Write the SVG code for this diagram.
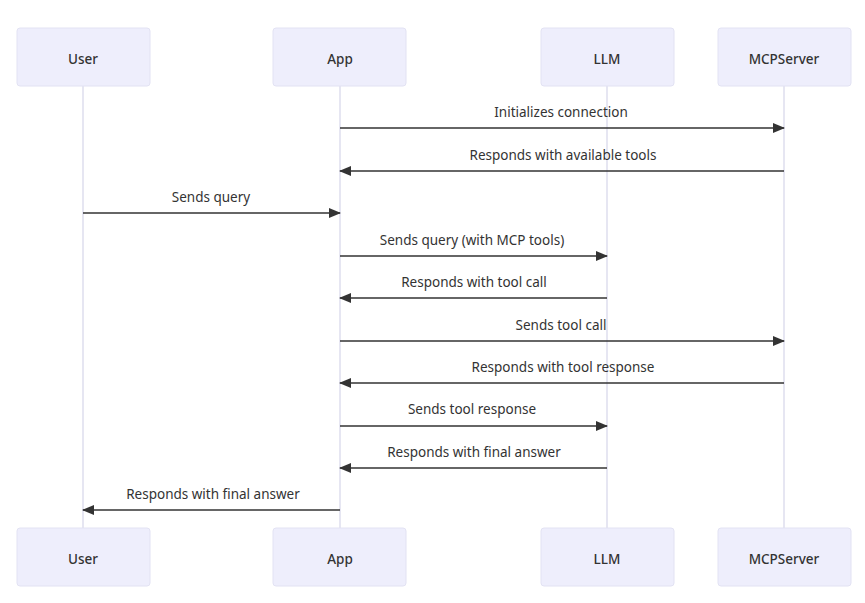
<svg xmlns="http://www.w3.org/2000/svg" width="865" height="603" viewBox="0 0 865 603">
<defs>
<marker id="arr" markerWidth="12" markerHeight="10" refX="11" refY="5" orient="auto" markerUnits="userSpaceOnUse">
<path d="M0,0 L12,5 L0,10 z" fill="#333"/>
</marker>
<style>
.actor rect{fill:#eeeefc;stroke:#e2e2f3;stroke-width:1}
.actor text{font-family:"Noto Sans","Open Sans",sans-serif;font-size:13.5px;font-weight:500;fill:#333;text-anchor:middle}
.life{stroke:#d6d6ea;stroke-width:1.2}
.msg{stroke:#333;stroke-width:1.3;fill:none;marker-end:url(#arr)}
.lbl{font-family:"Noto Sans","Open Sans",sans-serif;font-size:13.5px;fill:#333;text-anchor:middle}
</style>
</defs>
<rect width="865" height="603" fill="#fff"/>
<g id="lifelines">
<line class="life" x1="83" y1="86" x2="83" y2="528"/>
<line class="life" x1="340" y1="86" x2="340" y2="528"/>
<line class="life" x1="607" y1="86" x2="607" y2="528"/>
<line class="life" x1="784" y1="86" x2="784" y2="528"/>
</g>
<g id="User" class="actor"><rect x="17" y="28" width="133" height="58" rx="3"/><text x="83" y="63.5">User</text></g>
<g id="App" class="actor"><rect x="273" y="28" width="133" height="58" rx="3"/><text x="340" y="63.5">App</text></g>
<g id="LLM" class="actor"><rect x="541" y="28" width="133" height="58" rx="3"/><text x="607" y="63.5">LLM</text></g>
<g id="MCPServer" class="actor"><rect x="718" y="28" width="133" height="58" rx="3"/><text x="784" y="63.5">MCPServer</text></g>
<g id="User-bottom" class="actor"><rect x="17" y="528" width="133" height="58" rx="3"/><text x="83" y="563.5">User</text></g>
<g id="App-bottom" class="actor"><rect x="273" y="528" width="133" height="58" rx="3"/><text x="340" y="563.5">App</text></g>
<g id="LLM-bottom" class="actor"><rect x="541" y="528" width="133" height="58" rx="3"/><text x="607" y="563.5">LLM</text></g>
<g id="MCPServer-bottom" class="actor"><rect x="718" y="528" width="133" height="58" rx="3"/><text x="784" y="563.5">MCPServer</text></g>
<g id="connectors">
<line class="msg" x1="340" y1="128" x2="784" y2="128"/>
<text class="lbl" x="561" y="117">Initializes connection</text>
<line class="msg" x1="784" y1="171" x2="340" y2="171"/>
<text class="lbl" x="563" y="160">Responds with available tools</text>
<line class="msg" x1="83" y1="213" x2="340" y2="213"/>
<text class="lbl" x="211" y="202">Sends query</text>
<line class="msg" x1="340" y1="256" x2="607" y2="256"/>
<text class="lbl" x="472" y="245">Sends query (with MCP tools)</text>
<line class="msg" x1="607" y1="298" x2="340" y2="298"/>
<text class="lbl" x="474" y="287">Responds with tool call</text>
<line class="msg" x1="340" y1="341" x2="784" y2="341"/>
<text class="lbl" x="561" y="330">Sends tool call</text>
<line class="msg" x1="784" y1="383" x2="340" y2="383"/>
<text class="lbl" x="563" y="372">Responds with tool response</text>
<line class="msg" x1="340" y1="426" x2="607" y2="426"/>
<text class="lbl" x="472" y="414">Sends tool response</text>
<line class="msg" x1="607" y1="468" x2="340" y2="468"/>
<text class="lbl" x="474" y="457">Responds with final answer</text>
<line class="msg" x1="340" y1="510" x2="83" y2="510"/>
<text class="lbl" x="213" y="499">Responds with final answer</text>
</g>
</svg>
